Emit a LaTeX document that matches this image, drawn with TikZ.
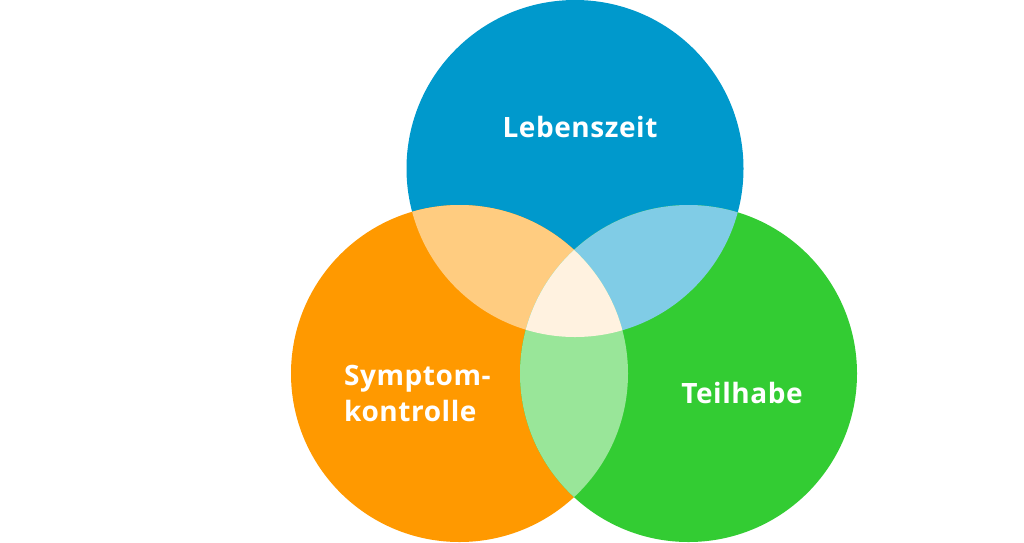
\documentclass[tikz,border=0pt]{standalone}
\usepackage{fontspec}
\setmainfont{Open Sans}[LetterSpace=2]
\definecolor{lebenblue}{HTML}{0099CC}
\definecolor{symporange}{HTML}{FF9900}
\definecolor{teilgreen}{HTML}{33CC33}
\definecolor{lightorange}{HTML}{FFCC80}
\definecolor{lightblue}{HTML}{80CCE6}
\definecolor{lightgreen}{HTML}{99E699}
\definecolor{centercream}{HTML}{FFF2E0}
\tikzset{vennlabel/.style={text=white, inner sep=0pt, font=\bfseries\fontsize{28}{36}\selectfont}}

\begin{document}
\begin{tikzpicture}[x=1pt,y=-1pt]
            \useasboundingbox (0,0) rectangle (1024,542);
            % Circles
            \fill[lebenblue] (575,168.5) circle (168.5pt);
            \fill[symporange] (459.5,373.5) circle (168.5pt);
            \fill[teilgreen] (688.5,373.5) circle (168.5pt);
            
            % Pairwise overlaps
            \begin{scope}
                \clip (575,168.5) circle (168.5pt);
                \fill[lightorange] (459.5,373.5) circle (168.5pt);
                \fill[lightblue] (688.5,373.5) circle (168.5pt);
            \end{scope}
            \begin{scope}
                \clip (459.5,373.5) circle (168.5pt);
                \fill[lightgreen] (688.5,373.5) circle (168.5pt);
            \end{scope}
            
            % Center
            \begin{scope}
                \clip (575,168.5) circle (168.5pt);
                \clip (459.5,373.5) circle (168.5pt);
                \fill[centercream] (688.5,373.5) circle (168.5pt);
            \end{scope}
            
            % Labels
            \node[vennlabel, anchor=base] (leben) at (580,137) {Lebenszeit};
            \node[vennlabel, anchor=base] (teil) at (742,403) {Teilhabe};
            \node[vennlabel, anchor=base west, align=left] (symp) at (344,421) {Symptom-\\kontrolle};
\end{tikzpicture}
\end{document}
